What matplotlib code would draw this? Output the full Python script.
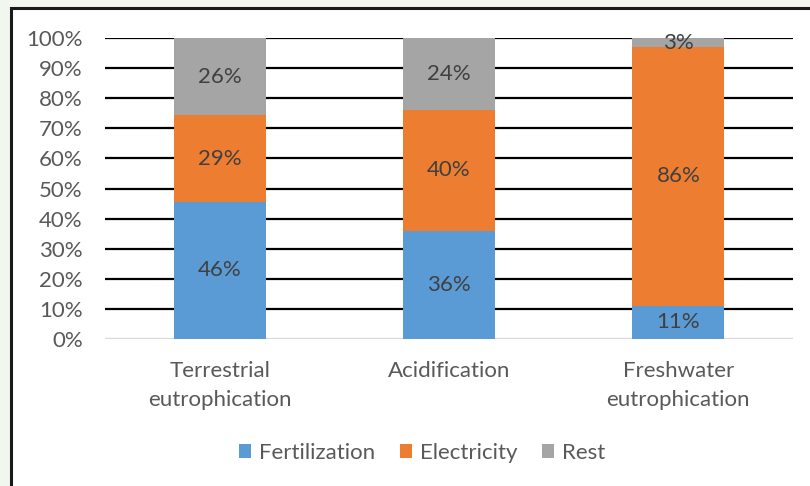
import matplotlib
matplotlib.use("Agg")
import matplotlib.pyplot as plt
from matplotlib.patches import Rectangle
import numpy as np

categories = ["Terrestrial\neutrophication", "Acidification", "Freshwater\neutrophication"]
series_names = ["Fertilization", "Electricity", "Rest"]
fertilization = [46, 36, 11]
electricity = [29, 40, 86]
rest = [26, 24, 3]
y_ticks = [0, 10, 20, 30, 40, 50, 60, 70, 80, 90, 100]
y_tick_labels = ["0%", "10%", "20%", "30%", "40%", "50%", "60%", "70%", "80%", "90%", "100%"]

colors = ["#5B9BD5", "#ED7D31", "#A5A5A5"]
text_gray = "#595959"
label_gray = "#404040"

plt.rcParams["font.family"] = ["Lato", "DejaVu Sans"]
FS = 16

fig = plt.figure(figsize=(8.1, 4.86), dpi=100)
fig.patch.set_facecolor("#F1F6EE")

# white chart panel with a dark frame
W, H = 810, 486
panel = Rectangle((11 / W, 0 - 0.05), 1.2, (H - 8.5) / H + 0.05,
                  transform=fig.transFigure, facecolor="white",
                  edgecolor="#1A1A1A", linewidth=2.2, zorder=-5)
fig.patches.append(panel)

ax = fig.add_axes([105 / W, 1 - 339 / H, (793 - 105) / W, (339 - 38) / H])
ax.set_facecolor("none")
ax.set_zorder(2)

series = [fertilization, electricity, rest]
totals = np.sum(series, axis=0)
x = np.arange(len(categories))
bottom = np.zeros(len(categories))
width = 0.4
for name, vals, c in zip(series_names, series, colors):
    share = np.array(vals) / totals * 100
    ax.bar(x, share, width, bottom=bottom, color=c, label=name, zorder=3, linewidth=0)
    for xi, b, s, v in zip(x, bottom, share, vals):
        ax.text(xi, b + s / 2, f"{v}%", ha="center", va="center",
                fontsize=FS, color=label_gray, zorder=4)
    bottom += share

ax.set_xlim(-0.5, len(categories) - 0.5)
ax.set_ylim(0, 100)
ax.set_yticks(y_ticks)
ax.set_yticklabels(y_tick_labels)
ax.set_xticks(x)
ax.set_xticklabels(categories, linespacing=1.55)

for t in y_ticks[1:]:
    ax.axhline(t, color="black", linewidth=1.6, zorder=1)
ax.axhline(0, color="#D9D9D9", linewidth=1.6, zorder=2)

for s in ax.spines.values():
    s.set_visible(False)
ax.tick_params(axis="both", length=0, labelsize=FS, colors=text_gray)
ax.tick_params(axis="y", pad=16)
ax.tick_params(axis="x", pad=16)

fig.legend(loc="center", bbox_to_anchor=(422 / W, 1 - 453 / H), ncol=3,
           frameon=False, fontsize=FS, labelcolor=text_gray,
           handlelength=0.55, handleheight=0.55, handletextpad=0.35,
           columnspacing=1.1)

fig.savefig("out.png", dpi=100, facecolor=fig.get_facecolor())
